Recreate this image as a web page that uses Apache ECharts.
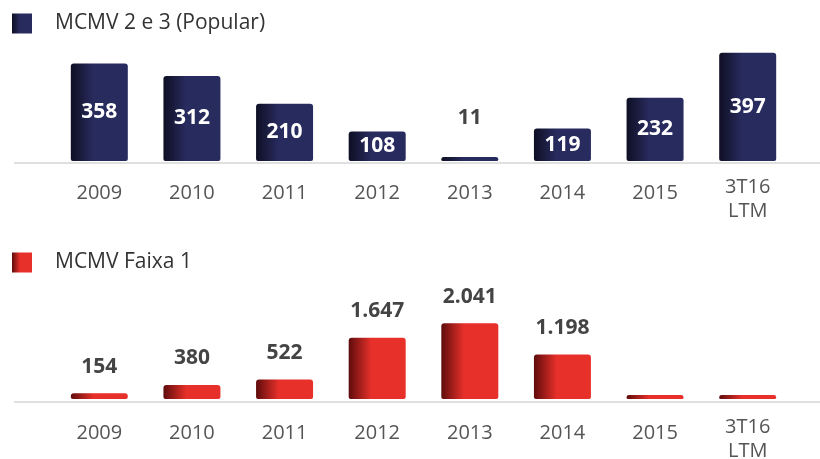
<!DOCTYPE html>
<html lang="pt-BR">
<head>
    <meta charset="utf-8">
    <title>MCMV</title>
    <script src="https://cdn.jsdelivr.net/npm/echarts@6/dist/echarts.min.js"></script>
    <style>
        body { margin: 0; background: #fff; }
        #main { width: 820px; height: 459px; }
    </style>
</head>
<body>
<div id="main"></div>
<script type="text/javascript">
    // dados
    var anos = ['2009', '2010', '2011', '2012', '2013', '2014', '2015', '3T16\nLTM'];
    var popular = [358, 312, 210, 108, 11, 119, 232, 397];
    var faixa1 = [154, 380, 522, 1647, 2041, 1198, 12, 10];
    var nomes = ['MCMV 2 e 3 (Popular)', 'MCMV Faixa 1'];

    var fonte = 'Open Sans';

    function fmt(v) {
        return String(v).replace(/\B(?=(\d{3})+(?!\d))/g, '.');
    }

    function grad(escuro, cor) {
        return new echarts.graphic.LinearGradient(0, 0, 1, 0, [
            {offset: 0, color: escuro},
            {offset: 0.4, color: cor},
            {offset: 1, color: cor}
        ]);
    }

    function cats() {
        return anos.map(function (a) {
            if (a.indexOf('\n') >= 0) return {value: a, textStyle: {lineHeight: 24}};
            return a;
        });
    }

    function legenda(nome, topo) {
        return {
            left: 12, top: topo, padding: 0,
            itemWidth: 20, itemHeight: 20,
            icon: 'rect',
            data: [nome],
            textStyle: {fontFamily: fonte, fontSize: 21, color: '#333', padding: [0, 0, 0, 18]}
        };
    }

    var myChart = echarts.init(document.getElementById('main'));

    var option = {
        animation: false,
        legend: [legenda(nomes[0], 13), legenda(nomes[1], 252)],
        grid: [
            {left: 53, right: 26, top: 52, height: 109, outerBoundsMode: 'none'},
            {left: 53, right: 26, top: 321, height: 78, outerBoundsMode: 'none'}
        ],
        xAxis: [0, 1].map(function (i) {
            return {
                type: 'category',
                gridIndex: i,
                data: cats(),
                axisLine: {show: false},
                axisTick: {show: false},
                axisLabel: {
                    fontFamily: fonte, fontSize: 20, color: '#555',
                    lineHeight: 36, margin: i === 0 ? 14 : 16
                }
            };
        }),
        yAxis: [
            {type: 'value', gridIndex: 0, min: 0, max: 400, show: false},
            {type: 'value', gridIndex: 1, min: 0, max: 2100, show: false}
        ],
        graphic: [
            {type: 'line', shape: {x1: 14, y1: 163, x2: 820, y2: 163}, style: {stroke: '#d6d6d6', lineWidth: 1.5}},
            {type: 'line', shape: {x1: 14, y1: 402, x2: 820, y2: 402}, style: {stroke: '#d6d6d6', lineWidth: 1.5}}
        ],
        series: [{
            name: nomes[0],
            type: 'bar',
            xAxisIndex: 0, yAxisIndex: 0,
            barWidth: 57,
            barMinHeight: 4,
            color: '#272a5c',
            itemStyle: {color: grad('#0e0f24', '#282b5e'), borderRadius: [3, 3, 2, 2]},
            label: {
                show: true, position: 'inside',
                fontFamily: fonte, fontSize: 21, fontWeight: 'bold', color: '#fff'
            },
            data: popular.map(function (v) {
                if (v < 50) {
                    return {value: v, label: {position: 'top', distance: 28, color: '#444'}};
                }
                return v;
            })
        }, {
            name: nomes[1],
            type: 'bar',
            xAxisIndex: 1, yAxisIndex: 1,
            barWidth: 57,
            barMinHeight: 4,
            color: '#e8302a',
            itemStyle: {color: grad('#5e0c0c', '#e8302a'), borderRadius: [3, 3, 2, 2]},
            label: {
                show: true, position: 'top', distance: 16,
                fontFamily: fonte, fontSize: 21, fontWeight: 'bold', color: '#444',
                formatter: function (p) { return fmt(p.value); }
            },
            data: faixa1.map(function (v) {
                if (v < 50) return {value: v, label: {show: false}};
                return v;
            })
        }]
    };
    myChart.setOption(option);
</script>
</body>
</html>
